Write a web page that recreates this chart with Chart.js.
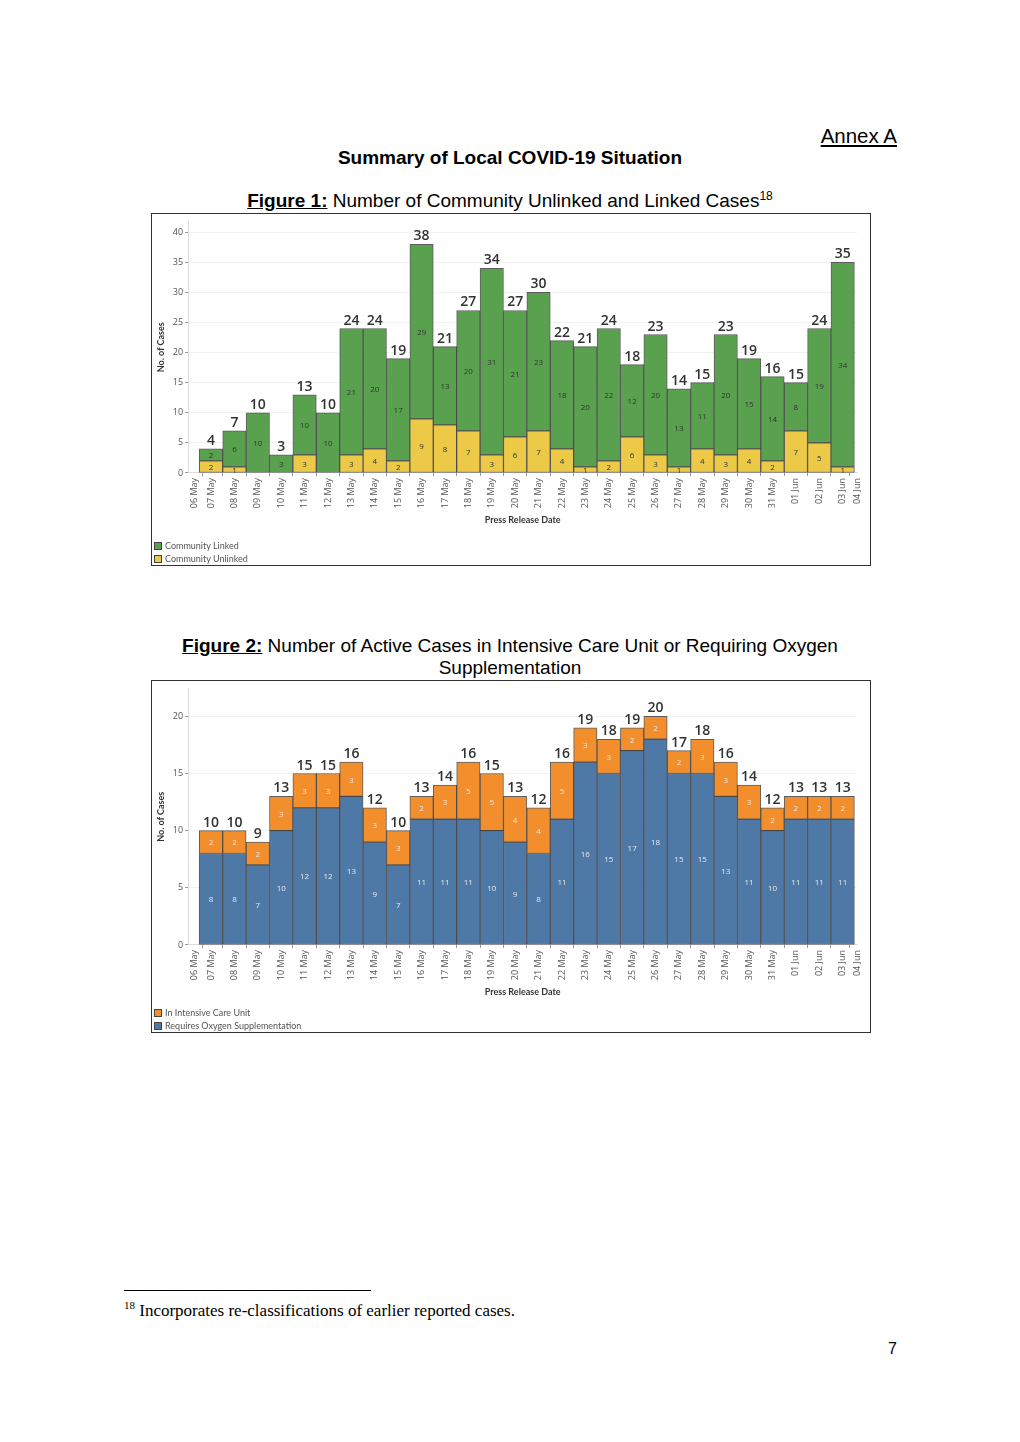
<!DOCTYPE html>
<html>
<head>
<meta charset="utf-8">
<script src="https://cdn.jsdelivr.net/npm/chart.js@4.4.1/dist/chart.umd.min.js"></script>
<style>
  html, body { margin: 0; padding: 0; background: #fff; }
  #page { position: relative; width: 1020px; height: 1442px; font-family: "Liberation Sans", Arial, sans-serif; color: #000; }
  .abs { position: absolute; white-space: nowrap; }
  .center { left: 0; width: 1020px; text-align: center; }
  .frame { position: absolute; border: 1px solid #333; box-sizing: border-box; }
  .frame canvas { position: absolute; left: 0; top: 0; }
  .legend { position: absolute; left: 2px; font-family: Lato, "Open Sans", sans-serif; font-size: 9px; color: #555; line-height: 13px; }
  .legend span.sw { display: inline-block; width: 8px; height: 8px; border: 1px solid #444; box-sizing: border-box; margin-right: 3px; vertical-align: -1px; }
</style>
</head>
<body>
<div id="page">
  <div class="abs" style="right:123px; top:123px; font-size:20.5px; line-height:26px; text-decoration:underline;">Annex A</div>
  <div class="abs center" style="top:147px; font-size:19px; line-height:22px; font-weight:bold;">Summary of Local COVID-19 Situation</div>
  <div class="abs center" style="top:190px; font-size:19px; line-height:22px;"><b><u>Figure 1:</u></b> Number of Community Unlinked and Linked Cases<sup style="font-size:12px; line-height:0;">18</sup></div>

  <div class="frame" style="left:151px; top:213px; width:720px; height:353px;">
    <canvas id="chart1" width="718" height="351"></canvas>
    <div class="legend" style="top:325px;">
      <div><span class="sw" style="background:#59a14f"></span>Community Linked</div>
      <div><span class="sw" style="background:#edc948"></span>Community Unlinked</div>
    </div>
  </div>

  <div class="abs center" style="top:635px; font-size:19px; line-height:22px;"><b><u>Figure 2:</u></b> Number of Active Cases in Intensive Care Unit or Requiring Oxygen<br>Supplementation</div>

  <div class="frame" style="left:151px; top:680px; width:720px; height:353px;">
    <canvas id="chart2" width="718" height="351"></canvas>
    <div class="legend" style="top:325px;">
      <div><span class="sw" style="background:#f28e2b"></span>In Intensive Care Unit</div>
      <div><span class="sw" style="background:#4e79a7"></span>Requires Oxygen Supplementation</div>
    </div>
  </div>

  <div class="abs" style="left:124px; top:1290px; width:247px; height:1px; background:#000;"></div>
  <div class="abs" style="left:124px; top:1300px; font-family:'Liberation Serif', 'Times New Roman', serif; font-size:17px; line-height:22px;"><sup style="font-size:11px; line-height:0;">18</sup> Incorporates re-classifications of earlier reported cases.</div>
  <div class="abs" style="left:888px; top:1339px; font-size:16px; line-height:20px;">7</div>
</div>

<script>
// Press release dates (bars run 07 May .. 03 Jun; axis shows 06 May .. 04 Jun)
const dates = ['07 May', '08 May', '09 May', '10 May', '11 May', '12 May', '13 May', '14 May',
  '15 May', '16 May', '17 May', '18 May', '19 May', '20 May', '21 May', '22 May', '23 May',
  '24 May', '25 May', '26 May', '27 May', '28 May', '29 May', '30 May', '31 May',
  '01 Jun', '02 Jun', '03 Jun'];
const axisLabels = ['06 May'].concat(dates, ['04 Jun']);

// Figure 1
const communityUnlinked = [2, 1, 0, 0, 3, 0, 3, 4, 2, 9, 8, 7, 3, 6, 7, 4, 1, 2, 6, 3, 1, 4, 3, 4, 2, 7, 5, 1];
const communityLinked = [2, 6, 10, 3, 10, 10, 21, 20, 17, 29, 13, 20, 31, 21, 23, 18, 20, 22, 12, 20, 13, 11, 20, 15, 14, 8, 19, 34];

// Figure 2
const oxygenSupp = [8, 8, 7, 10, 12, 12, 13, 9, 7, 11, 11, 11, 10, 9, 8, 11, 16, 15, 17, 18, 15, 15, 13, 11, 10, 11, 11, 11];
const inICU = [2, 2, 2, 3, 3, 3, 3, 3, 3, 2, 3, 5, 5, 4, 4, 5, 3, 3, 2, 2, 2, 3, 3, 3, 2, 2, 2, 2];

const X_MIN = -0.98, X_MAX = 27.62;
// label positions on the date axis (first/last are edge labels)
const labelPos = axisLabels.map((d, i) => i === 0 ? -0.7 : (i === axisLabels.length - 1 ? X_MAX : i - 1));

const valueLabels = {
  id: 'valueLabels',
  afterDatasetsDraw(chart, args, opts) {
    const ctx = chart.ctx;
    ctx.save();
    ctx.textAlign = 'center';
    ctx.textBaseline = 'middle';
    ctx.font = '8px "Open Sans", sans-serif';
    ctx.fillStyle = opts.segColor;
    chart.data.datasets.forEach((ds, di) => {
      chart.getDatasetMeta(di).data.forEach((bar, i) => {
        const v = ds.data[i].y;
        if (!v) return;
        ctx.fillText(String(v), bar.x, (bar.y + bar.base) / 2 + 1);
      });
    });
    ctx.font = '600 14px "Open Sans", sans-serif';
    ctx.fillStyle = '#333';
    ctx.textBaseline = 'bottom';
    const meta = chart.getDatasetMeta(0);
    const y = chart.scales.y;
    meta.data.forEach((bar, i) => {
      const total = chart.data.datasets.reduce((s, ds) => s + ds.data[i].y, 0);
      ctx.fillText(String(total), bar.x, y.getPixelForValue(total) - 1);
    });
    ctx.restore();
  }
};

function makeChart(id, lower, upper, yMax, padBottom, segColor) {
  const pts = arr => arr.map((v, i) => ({ x: i, y: v }));
  return new Chart(document.getElementById(id), {
    type: 'bar',
    data: {
      datasets: [
        { label: lower.label, data: pts(lower.data), backgroundColor: lower.color },
        { label: upper.label, data: pts(upper.data), backgroundColor: upper.color }
      ].map(ds => Object.assign(ds, {
        borderColor: 'rgba(40,40,40,0.75)', borderWidth: 1, borderSkipped: false,
        barPercentage: 1, categoryPercentage: 1
      }))
    },
    options: {
      responsive: false,
      animation: false,
      layout: { padding: { top: 0, right: 1, bottom: padBottom, left: 4 } },
      plugins: {
        legend: { display: false },
        tooltip: { enabled: false },
        valueLabels: { segColor: segColor }
      },
      scales: {
        x: {
          type: 'linear', display: false, stacked: true, offset: false,
          min: X_MIN, max: X_MAX, ticks: { stepSize: 1 }
        },
        xl: {
          type: 'linear', position: 'bottom', offset: false,
          min: X_MIN, max: X_MAX,
          afterBuildTicks: scale => { scale.ticks = labelPos.map(v => ({ value: v })); },
          ticks: {
            autoSkip: false, minRotation: 90, maxRotation: 90, padding: 2,
            color: '#555', font: { size: 9, family: '"Open Sans", sans-serif' },
            callback: (v, i) => axisLabels[i]
          },
          grid: { drawOnChartArea: false, drawTicks: true, tickLength: 3, color: '#999' },
          border: { color: '#ddd' },
          title: {
            display: true, text: 'Press Release Date', color: '#333',
            font: { size: 9, weight: 'bold', family: 'Lato, sans-serif' }, padding: { top: 4, bottom: 0 }
          }
        },
        y: {
          stacked: true, min: 0, max: yMax,
          ticks: {
            stepSize: 5, includeBounds: false, padding: 2,
            color: '#555', font: { size: 9, family: '"Open Sans", sans-serif' }
          },
          grid: { color: '#f2f2f2', tickColor: '#999', tickLength: 3 },
          border: { color: '#ddd' },
          title: {
            display: true, text: 'No. of Cases', color: '#333',
            font: { size: 9, weight: 'bold', family: 'Lato, sans-serif' }, padding: { top: 0, bottom: 4 }
          }
        }
      }
    },
    plugins: [valueLabels]
  });
}

makeChart('chart1',
  { label: 'Community Unlinked', data: communityUnlinked, color: '#edc948' },
  { label: 'Community Linked', data: communityLinked, color: '#59a14f' },
  41.8, 40, '#333');

makeChart('chart2',
  { label: 'Requires Oxygen Supplementation', data: oxygenSupp, color: '#4e79a7' },
  { label: 'In Intensive Care Unit', data: inICU, color: '#f28e2b' },
  22.45, 35, '#e8e8e8');
</script>
</body>
</html>
